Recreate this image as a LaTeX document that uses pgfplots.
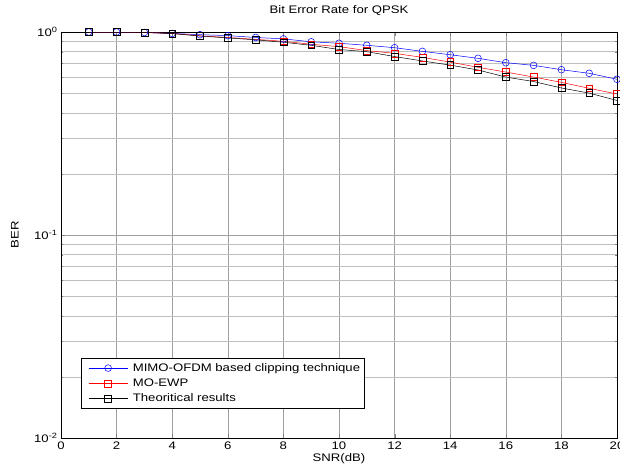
\documentclass[border=0pt]{standalone}
\usepackage{pgfplots}
\pgfplotsset{compat=1.18}
\usepackage{fontspec}
\setmainfont{Liberation Sans}[FakeStretch=1.2]

\begin{document}
\begin{tikzpicture}[font=\fontsize{11}{12.5}\selectfont]
\begin{axis}[
  at={(0,0)}, anchor=south west,
  scale only axis,
  width=556bp, height=406bp,
  ymode=log,
  xmin=0, xmax=20, ymin=1e-2, ymax=1,
  xtick={0,2,...,20},
  ytick={1e-2,1e-1,1},
  yticklabels={10\textsuperscript{-2},10\textsuperscript{-1},10\textsuperscript{0}},
  /pgf/number format/assume math mode=true,
  tick align=inside,
  tick pos=both,
  major tick length=4bp, minor tick length=2.5bp,
  grid=both,
  major grid style={gray!75, line width=0.45pt},
  minor grid style={gray!50, line width=0.45pt},
  axis line style={line width=0.7pt},
  title={Bit Error Rate for QPSK},
  every axis title shift=0pt,
  title style={at={(axis description cs:0.5,1.054)}, anchor=center},
  xlabel={SNR(dB)},
  ylabel={BER},
  xlabel style={at={(axis description cs:0.5,-0.052)}, anchor=center},
  ylabel style={at={(axis description cs:-0.083,0.5)}, anchor=center},
  legend cell align=left,
  legend style={at={(0.036,0.071)}, anchor=south west, draw=black,
    line width=0.7pt, row sep=2pt, font=\fontsize{11}{12.5}\selectfont,
    inner xsep=2bp, inner ysep=3.5bp},
  legend image code/.code={%
    \path (0bp,0bp) (47bp,0bp);
    \draw[mark repeat=2,mark phase=2] plot coordinates {(5bp,0bp)(24.5bp,0bp)(44bp,0bp)};},
  every axis plot/.append style={line width=0.5pt, mark size=3.4bp},
]
\addplot[blue, mark=o] coordinates {
(1,1.0) (2,1.0) (3,0.995) (4,0.984) (5,0.97) (6,0.96) (7,0.94) (8,0.925)
(9,0.895) (10,0.88) (11,0.86) (12,0.837) (13,0.803) (14,0.773) (15,0.742)
(16,0.706) (17,0.685) (18,0.652) (19,0.626) (20,0.585)};
\addlegendentry{MIMO-OFDM based clipping technique}
\addplot[red, mark=square] coordinates {
(1,1.0) (2,1.0) (3,0.995) (4,0.984) (5,0.958) (6,0.94) (7,0.92) (8,0.9)
(9,0.87) (10,0.847) (11,0.81) (12,0.785) (13,0.75) (14,0.711) (15,0.67)
(16,0.635) (17,0.60) (18,0.565) (19,0.528) (20,0.495)};
\addlegendentry{MO-EWP}
\addplot[black, mark=square] coordinates {
(1,1.0) (2,1.0) (3,0.995) (4,0.982) (5,0.955) (6,0.935) (7,0.915) (8,0.89)
(9,0.86) (10,0.82) (11,0.80) (12,0.757) (13,0.72) (14,0.687) (15,0.65)
(16,0.60) (17,0.57) (18,0.53) (19,0.50) (20,0.46)};
\addlegendentry{Theoritical results}
\end{axis}
\pgfresetboundingbox
\path[use as bounding box] (-61bp,-28bp) rectangle (559bp,438bp);
\end{tikzpicture}
\end{document}
